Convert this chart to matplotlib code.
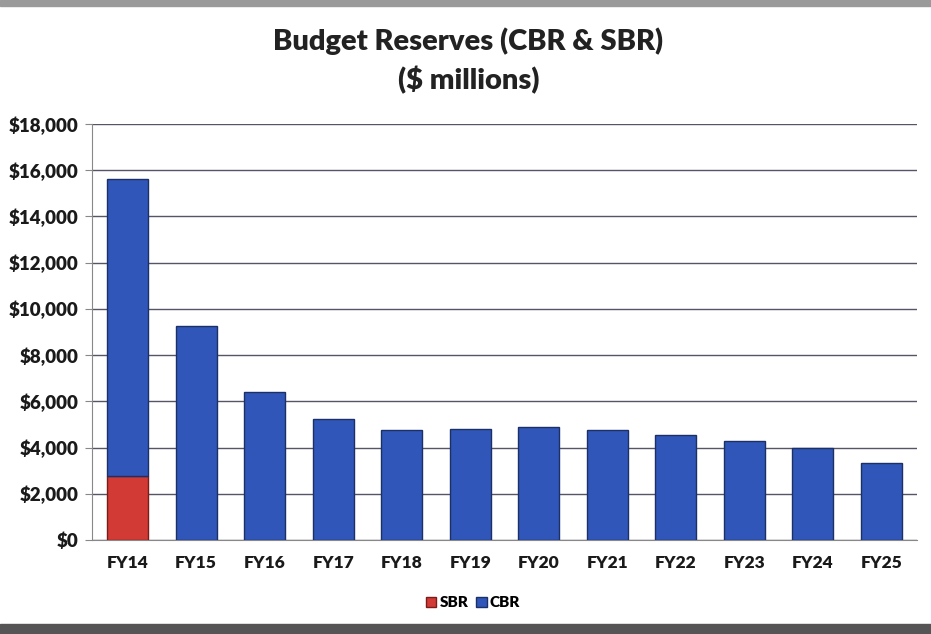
import matplotlib.pyplot as plt
from matplotlib.patches import Rectangle
from matplotlib.ticker import FuncFormatter

plt.rcParams['font.family'] = ['Lato', 'DejaVu Sans']

years = ['FY14', 'FY15', 'FY16', 'FY17', 'FY18', 'FY19',
         'FY20', 'FY21', 'FY22', 'FY23', 'FY24', 'FY25']
sbr = [2750, 0, 0, 0, 0, 0, 0, 0, 0, 0, 0, 0]
cbr = [12850, 9250, 6400, 5230, 4760, 4790, 4870, 4760, 4550, 4290, 3970, 3320]

fig = plt.figure(figsize=(9.31, 6.34), dpi=100)
ax = fig.add_axes([92 / 931, 94 / 634, 825 / 931, 416 / 634])

x = range(len(years))
ax.bar(x, sbr, width=0.6, color='#d23a35', edgecolor='#7a1c1a', linewidth=1.0,
       label='SBR', zorder=3)
ax.bar(x, cbr, width=0.6, bottom=sbr, color='#2f56b8', edgecolor='#1c2f66',
       linewidth=1.0, label='CBR', zorder=3)

ax.set_ylim(0, 18000)
ax.set_xlim(-0.52, len(years) - 0.48)
ax.set_yticks(range(0, 18001, 2000))
ax.yaxis.set_major_formatter(FuncFormatter(lambda v, p: '${:,.0f}'.format(v)))
ax.set_xticks(list(x))
ax.set_xticklabels(years)
ax.grid(axis='y', color='#555566', linewidth=1.0, zorder=0)
ax.tick_params(axis='y', length=5, color='#888888', labelsize=13.5, pad=5)
ax.tick_params(axis='x', length=0, labelsize=12.5, pad=11)
for lab in ax.get_xticklabels() + ax.get_yticklabels():
    lab.set_fontweight('heavy')
    lab.set_color('#1a1a1a')
for s in ['top', 'right']:
    ax.spines[s].set_visible(False)
ax.spines['left'].set_color('#888888')
ax.spines['bottom'].set_color('#888888')

fig.text(0.503, 0.935, 'Budget Reserves (CBR & SBR)', ha='center', va='center',
         fontsize=21, fontweight='heavy', color='#222222')
fig.text(0.503, 0.873, '($ millions)', ha='center', va='center',
         fontsize=21, fontweight='heavy', color='#222222')

fig.legend(loc='center', bbox_to_anchor=(0.508, 0.049), ncol=2, frameon=False,
           handlelength=0.7, handleheight=0.7, handletextpad=0.2,
           columnspacing=0.5, prop={'weight': 'heavy', 'size': 11})

# scanned-slide border strips
fig.patches.append(Rectangle((0, 1 - 6 / 634), 1, 6 / 634, transform=fig.transFigure,
                             color='#9a9a9a', zorder=0))
fig.patches.append(Rectangle((0, 0), 1, 10 / 634, transform=fig.transFigure,
                             color='#555555', zorder=0))

fig.savefig('out.png', dpi=100)
